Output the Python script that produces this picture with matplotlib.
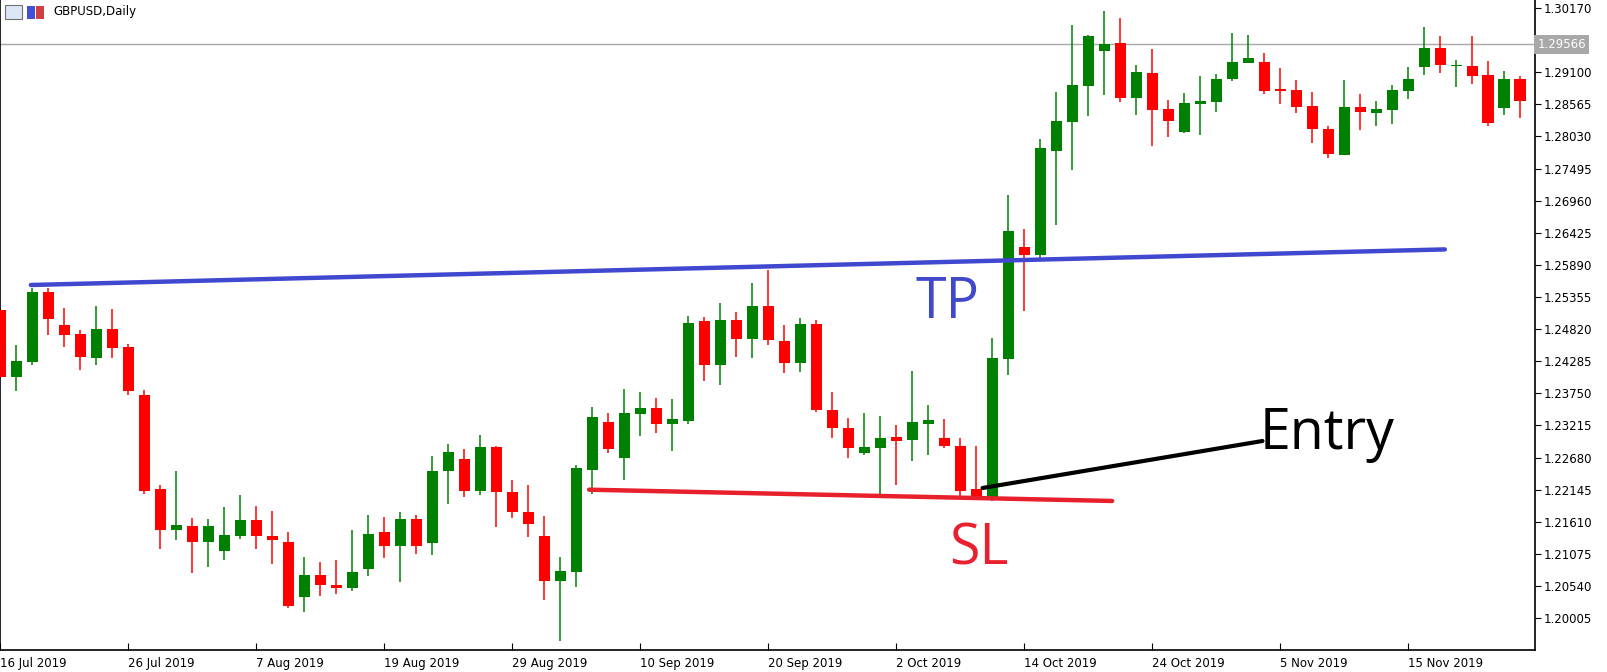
import matplotlib
matplotlib.use("Agg")
import matplotlib.pyplot as plt
from matplotlib.patches import Rectangle
import numpy as np

opens = [1.2514,1.2402,1.2427,1.2544,1.2489,1.2474,1.2434,1.2482,1.2452,1.2372,
         1.2215,1.2147,1.2154,1.2128,1.2113,1.2137,1.2164,1.2138,1.2128,1.2036,
         1.2072,1.2056,1.2050,1.2083,1.2144,1.2121,1.2166,1.2125,1.2245,1.2265,
         1.2213,1.2286,1.2210,1.2178,1.2138,1.2063,1.2078,1.2247,1.2328,1.2267,
         1.2340,1.2350,1.2324,1.2329,1.2495,1.2422,1.2497,1.2466,1.2520,1.2462,
         1.2426,1.2490,1.2348,1.2318,1.2275,1.2284,1.2302,1.2297,1.2324,1.2300,
         1.2288,1.2215,1.2198,1.2432,1.2619,1.2605,1.2779,1.2827,1.2887,1.2946,
         1.2959,1.2867,1.2908,1.2848,1.2810,1.2857,1.2860,1.2899,1.2926,1.2927,
         1.2882,1.2880,1.2853,1.2815,1.2772,1.2852,1.2842,1.2847,1.2879,1.2919,
         1.2950,1.2921,1.2920,1.2905,1.2850,1.2898]
highs = [1.2518,1.2455,1.2551,1.2551,1.2517,1.2480,1.2520,1.2515,1.2457,1.2380,
         1.2223,1.2246,1.2168,1.2166,1.2186,1.2206,1.2188,1.2179,1.2144,1.2103,
         1.2094,1.2097,1.2148,1.2173,1.2169,1.2178,1.2173,1.2270,1.2291,1.2283,
         1.2306,1.2288,1.2230,1.2223,1.2171,1.2103,1.2255,1.2352,1.2342,1.2382,
         1.2378,1.2368,1.2365,1.2504,1.2502,1.2526,1.2510,1.2559,1.2581,1.2489,
         1.2500,1.2497,1.2378,1.2334,1.2343,1.2337,1.2322,1.2412,1.2355,1.2333,
         1.2300,1.2288,1.2467,1.2706,1.2649,1.2798,1.2877,1.2989,1.2972,1.3012,
         1.3000,1.2922,1.2949,1.2863,1.2875,1.2903,1.2907,1.2975,1.2972,1.2942,
         1.2917,1.2897,1.2877,1.2821,1.2897,1.2873,1.2862,1.2888,1.2918,1.2985,
         1.2970,1.2930,1.2971,1.2928,1.2912,1.2903]
lows = [1.2401,1.2379,1.2422,1.2473,1.2453,1.2414,1.2422,1.2434,1.2372,1.2208,
        1.2115,1.2130,1.2075,1.2086,1.2098,1.2132,1.2116,1.2091,1.2018,1.2011,
        1.2038,1.2040,1.2046,1.2071,1.2100,1.2060,1.2108,1.2105,1.2190,1.2203,
        1.2205,1.2152,1.2168,1.2135,1.2031,1.1962,1.2053,1.2207,1.2275,1.2230,
        1.2304,1.2309,1.2279,1.2324,1.2396,1.2389,1.2436,1.2434,1.2456,1.2409,
        1.2411,1.2344,1.2300,1.2267,1.2272,1.2200,1.2223,1.2262,1.2272,1.2284,
        1.2200,1.2199,1.2196,1.2406,1.2513,1.2598,1.2655,1.2747,1.2837,1.2872,
        1.2860,1.2839,1.2787,1.2802,1.2809,1.2805,1.2844,1.2896,1.2926,1.2874,
        1.2857,1.2842,1.2792,1.2767,1.2772,1.2814,1.2820,1.2824,1.2865,1.2906,
        1.2909,1.2886,1.2891,1.2820,1.2839,1.2834]
closes = [1.2402,1.2429,1.2544,1.2499,1.2473,1.2436,1.2482,1.2451,1.2379,1.2213,
          1.2147,1.2156,1.2128,1.2154,1.2139,1.2164,1.2138,1.2130,1.2020,1.2072,
          1.2055,1.2050,1.2077,1.2141,1.2120,1.2166,1.2120,1.2246,1.2278,1.2213,
          1.2286,1.2210,1.2177,1.2158,1.2063,1.2079,1.2250,1.2335,1.2282,1.2342,
          1.2350,1.2324,1.2332,1.2492,1.2422,1.2497,1.2466,1.2520,1.2464,1.2426,
          1.2490,1.2347,1.2317,1.2284,1.2285,1.2300,1.2295,1.2328,1.2330,1.2287,
          1.2212,1.2200,1.2434,1.2646,1.2605,1.2783,1.2828,1.2888,1.2970,1.2957,
          1.2867,1.2910,1.2847,1.2829,1.2858,1.2862,1.2898,1.2927,1.2933,1.2879,
          1.2879,1.2852,1.2815,1.2774,1.2852,1.2844,1.2848,1.2880,1.2898,1.2950,
          1.2922,1.2921,1.2904,1.2825,1.2898,1.2862]

date_labels = ["16 Jul 2019","26 Jul 2019","7 Aug 2019","19 Aug 2019","29 Aug 2019",
               "10 Sep 2019","20 Sep 2019","2 Oct 2019","14 Oct 2019","24 Oct 2019",
               "5 Nov 2019","15 Nov 2019"]
price_labels = [1.30170,1.29100,1.28565,1.28030,1.27495,1.26960,1.26425,1.25890,
                1.25355,1.24820,1.24285,1.23750,1.23215,1.22680,1.22145,1.21610,
                1.21075,1.20540,1.20005]
current_price = 1.29566

tp_line = ([1.9, 90.3], [1.25555, 1.26148])
sl_line = ([36.8, 69.5], [1.22145, 1.21957])
entry_line = ([61.4, 78.9], [1.22173, 1.22956])

W, H = 1607, 672
fig = plt.figure(figsize=(W/100, H/100), dpi=100)
ax = fig.add_axes([0, (H-650)/H, 1535/W, 650/H])
GREEN, RED = "#008000", "#ff0000"
bw = 0.69
for i, (o, h, l, c) in enumerate(zip(opens, highs, lows, closes)):
    col = GREEN if c >= o else RED
    ax.plot([i, i], [l, h], color=col, lw=1.1, solid_capstyle="butt", zorder=2)
    ax.add_patch(Rectangle((i - bw/2, min(o, c)), bw, max(abs(c - o), 0.00006),
                           color=col, lw=0, zorder=3))

ax.axhline(current_price, color="#a8a8a8", lw=1, zorder=1)
ax.plot(*tp_line, color="#4048d0", lw=3.2, zorder=4, solid_capstyle="round")
ax.plot(*sl_line, color="#e8202c", lw=3.2, zorder=4, solid_capstyle="round")
ax.plot(*entry_line, color="black", lw=3, zorder=5, solid_capstyle="round")
ax.text(57.2, 1.2524, "TP", color="#4049c9", fontsize=40, va="center", ha="left",
        family="Open Sans")
ax.text(59.3, 1.2114, "SL", color="#e82030", fontsize=40, va="center", ha="left",
        family="Open Sans")
ax.text(78.7, 1.2307, "Entry", color="black", fontsize=40, va="center", ha="left",
        family="Open Sans")

ax.set_xlim(-0.03, 1535/16)
ax.set_ylim(1.19474, 1.30303)
for s in ["top"]:
    ax.spines[s].set_visible(False)
for s in ["left", "right", "bottom"]:
    ax.spines[s].set_color("black")
    ax.spines[s].set_linewidth(1.2)
ax.yaxis.tick_right()
ax.set_yticks(price_labels)
ax.set_yticklabels([f"{p:.5f}" for p in price_labels], fontsize=8.5)
ax.set_xticks(np.arange(len(date_labels)) * 8)
ax.set_xticklabels(date_labels, fontsize=8.5, ha="left")
ax.tick_params(axis="x", direction="in", length=5, pad=5)
ax.tick_params(axis="y", direction="out", length=4, pad=2)
ax.tick_params(axis="x", which="major", bottom=True)
ax.text(1.0015, current_price, f"{current_price:.5f}", transform=ax.get_yaxis_transform(),
        fontsize=8.5, color="white", va="center", ha="left",
        bbox=dict(boxstyle="square,pad=0.25", fc="#a8a8a8", ec="none"), zorder=10,
        clip_on=False)

fig.text(53/W, 1 - 12/H, "GBPUSD,Daily", fontsize=8.5, va="center", ha="left")
fig.patches.append(Rectangle((5/W, 1-19/H), 17/W, 14/H, transform=fig.transFigure,
                             fc="#dde6f4", ec="#707070", lw=0.8))
fig.patches.append(Rectangle((27/W, 1-19/H), 8/W, 13/H, transform=fig.transFigure,
                             fc="#4450d8", ec="none"))
fig.patches.append(Rectangle((36/W, 1-19/H), 8/W, 13/H, transform=fig.transFigure,
                             fc="#d04040", ec="none"))
fig.savefig("out.png", dpi=100)
